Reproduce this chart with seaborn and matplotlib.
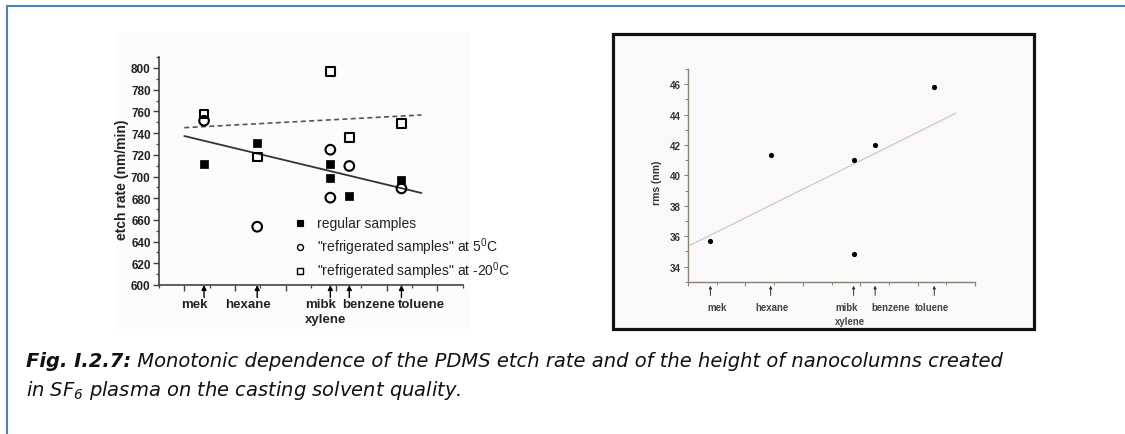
import matplotlib
matplotlib.use("Agg")
import matplotlib.pyplot as plt
import seaborn as sns
from matplotlib.patches import Rectangle
from matplotlib.lines import Line2D
from matplotlib.ticker import MultipleLocator

# ---- data -------------------------------------------------------------
# casting solvents placed on a common solvent-quality axis
solvent_labels = ["mek", "hexane", "mibk\nxylene", "benzene", "toluene"]
solvent_x = [0.78, 2.88, 5.77, 6.52, 8.58]

# PDMS etch rate (nm/min)
regular_x = [0.78, 2.88, 5.77, 5.77, 6.52, 8.58]
regular_rate = [711.5, 731.0, 711.5, 698.6, 681.7, 696.8]
cold5_x = [0.78, 2.88, 5.77, 5.77, 6.52, 8.58]
cold5_rate = [751.4, 653.7, 724.7, 680.5, 709.7, 689.0]
cold20_x = [0.78, 2.88, 5.77, 6.52, 8.58]
cold20_rate = [757.6, 718.0, 796.6, 735.8, 749.0]

# linear trends of the etch rate
trend_x = [0.0, 9.37]
trend_regular = [737.3, 684.8]
trend_cold = [745.0, 756.7]

# nanocolumn roughness (nm)
rms_x = [0.78, 2.88, 5.77, 5.77, 6.52, 8.58]
rms_nm = [35.67, 41.33, 40.98, 34.81, 41.99, 45.82]
rms_trend_x = [0.07, 9.34]
rms_trend = [35.4, 44.09]

legend_labels = [
    "regular samples",
    "\"refrigerated samples\" at 5$\\mathregular{^0}$C",
    "\"refrigerated samples\" at -20$\\mathregular{^0}$C",
]

# ---- layout (pixels of a 1125 x 435 canvas) ---------------------------
W, H = 1125, 435
left_label_x = [0.39, 2.52, 4.77, 7.29, 9.38]
left_label_ha = ["center", "center", "left", "center", "center"]
right_label_x = [1.0, 2.92, 5.12, 7.07, 8.49]
right_label_ha = ["center", "center", "left", "center", "center"]
legend_rows_y = [228, 252, 276]      # text baselines
legend_marker_x, legend_text_x = 300, 317

sns.set_theme(style="white")
plt.rcParams["font.family"] = ["Liberation Sans", "DejaVu Sans"]
plt.rcParams["axes.unicode_minus"] = False

fig = plt.figure(figsize=(W / 100, H / 100), dpi=100)
fig.patch.set_facecolor("white")


def fx(px):
    return px / W


def fy(py):
    return 1 - py / H


# page frame (top and left rule)
fig.add_artist(Line2D([fx(7), 1], [fy(7), fy(7)], color="#4f81bd", lw=1.5))
fig.add_artist(Line2D([fx(7), fx(7)], [fy(7), 0], color="#4f81bd", lw=1.5))

# faint panel backgrounds
fig.add_artist(Rectangle((fx(115), fy(330)), fx(470) - fx(115), fy(33) - fy(330),
                         transform=fig.transFigure, facecolor="#fcfcfc",
                         edgecolor="none", zorder=-5))
fig.add_artist(Rectangle((fx(613), fy(330)), fx(1034) - fx(613), fy(35) - fy(330),
                         transform=fig.transFigure, facecolor="#f9f9f9",
                         edgecolor="#111111", lw=2.3, zorder=-5))

# ======================= left panel: etch rate =========================
ax1 = fig.add_axes([fx(159), fy(286), fx(462.7) - fx(159), fy(58.15) - fy(286)])
ax1.set_facecolor("none")

sns.lineplot(x=trend_x, y=trend_regular, ax=ax1, color="#333333", lw=1.3, legend=False)
sns.lineplot(x=trend_x, y=trend_cold, ax=ax1, color="#555555", lw=1.2,
             linestyle=(0, (3, 2)), legend=False)
sns.scatterplot(x=regular_x, y=regular_rate, ax=ax1, marker="s", s=40,
                color="black", edgecolor="black", linewidth=0.5, zorder=3)
sns.scatterplot(x=cold5_x, y=cold5_rate, ax=ax1, marker="o", s=48,
                facecolor="none", edgecolor="black", linewidth=1.5, zorder=3)
sns.scatterplot(x=cold20_x, y=cold20_rate, ax=ax1, marker="s", s=40,
                facecolor="none", edgecolor="black", linewidth=1.5, zorder=3)

ax1.set_xlim(-1, 11)
ax1.set_ylim(600, 810)
ax1.set_xlabel("")
ax1.set_ylabel("")
ax1.yaxis.set_major_locator(MultipleLocator(20))
ax1.yaxis.set_minor_locator(MultipleLocator(10))
ax1.xaxis.set_major_locator(MultipleLocator(2))
ax1.xaxis.set_minor_locator(MultipleLocator(1))
for side in ["top", "right"]:
    ax1.spines[side].set_visible(False)
for side in ["left", "bottom"]:
    ax1.spines[side].set_color("#444444")
    ax1.spines[side].set_linewidth(1.2)
ax1.tick_params(axis="both", which="major", direction="out", length=4, width=1,
                color="#444444", bottom=True, left=True)
ax1.tick_params(axis="both", which="minor", direction="out", length=2.5, width=0.9,
                color="#444444", bottom=True, left=True)
ax1.tick_params(axis="y", labelsize=8.5, pad=2, labelcolor="#222222")
ax1.tick_params(axis="x", labelbottom=False)
for lab in ax1.get_yticklabels():
    lab.set_fontweight("bold")

fig.text(fx(122), fy(180), "etch rate (nm/min)", rotation=90, ha="center", va="center",
         fontsize=10, fontweight="bold", color="#222222")

xt1 = ax1.get_xaxis_transform()
for xv in solvent_x:
    ax1.annotate("", xy=(xv, 0), xycoords=xt1, xytext=(0, -9), textcoords="offset points",
                 arrowprops=dict(arrowstyle="-|>", lw=1.0, color="black",
                                 mutation_scale=7, shrinkA=0, shrinkB=0),
                 annotation_clip=False, zorder=4)
for lab, xv, ha in zip(solvent_labels, left_label_x, left_label_ha):
    ax1.annotate(lab, xy=(xv, 0), xycoords=xt1, xytext=(0, -13), textcoords="offset pixels",
                 ha=ha, va="top", fontsize=9.5, fontweight="bold", color="#222222",
                 linespacing=1.3, annotation_clip=False)

# legend: marker key and label per series
legend_markers = [
    dict(marker="s", mfc="black", mec="black", mew=0.8),
    dict(marker="o", mfc="none", mec="black", mew=1.0),
    dict(marker="s", mfc="none", mec="black", mew=1.0),
]
for style, label, yb in zip(legend_markers, legend_labels, legend_rows_y):
    fig.add_artist(Line2D([fx(legend_marker_x)], [fy(yb - 4)], ls="", ms=4.3, **style))
    fig.text(fx(legend_text_x), fy(yb), label, ha="left", va="baseline",
             fontsize=10, color="#222222")

# ======================= right panel: roughness ========================
ax2 = fig.add_axes([fx(688), fy(282.7), fx(975) - fx(688), fy(70) - fy(282.7)])
ax2.set_facecolor("none")
sns.lineplot(x=rms_trend_x, y=rms_trend, ax=ax2, color="#dcc3c3", lw=0.9, legend=False)
sns.scatterplot(x=rms_x, y=rms_nm, ax=ax2, marker="o", s=14, color="black",
                linewidth=0, zorder=3)
ax2.set_xlim(0, 10)
ax2.set_ylim(33, 47)
ax2.set_xlabel("")
ax2.set_ylabel("")
ax2.yaxis.set_minor_locator(MultipleLocator(1))
ax2.xaxis.set_major_locator(MultipleLocator(2))
ax2.xaxis.set_minor_locator(MultipleLocator(1))
ax2.set_yticks(range(34, 47, 2))
for side in ["top", "right"]:
    ax2.spines[side].set_visible(False)
for side in ["left", "bottom"]:
    ax2.spines[side].set_color("#8a8274")
    ax2.spines[side].set_linewidth(1.0)
ax2.tick_params(axis="both", which="major", direction="out", length=3, width=0.8,
                color="#8a8274", bottom=True, left=True)
ax2.tick_params(axis="both", which="minor", direction="out", length=2, width=0.7,
                color="#8a8274", bottom=True, left=True)
ax2.tick_params(axis="y", labelsize=7, pad=2, labelcolor="#333333")
ax2.tick_params(axis="x", labelbottom=False)
for lab in ax2.get_yticklabels():
    lab.set_fontweight("bold")

fig.text(fx(657), fy(183), "rms (nm)", rotation=90, ha="center", va="center",
         fontsize=7.5, fontweight="bold", color="#333333")

xt2 = ax2.get_xaxis_transform()
for xv in solvent_x:
    ax2.annotate("", xy=(xv, -4 / 212.7), xycoords=xt2, xytext=(0, -7), textcoords="offset points",
                 arrowprops=dict(arrowstyle="-|>", lw=0.7, color="#333333",
                                 mutation_scale=4, shrinkA=0, shrinkB=0),
                 annotation_clip=False)
for lab, xv, ha in zip(solvent_labels, right_label_x, right_label_ha):
    ax2.annotate(lab, xy=(xv, 0), xycoords=xt2, xytext=(0, -20), textcoords="offset pixels",
                 ha=ha, va="top", fontsize=6.9, fontweight="bold", color="#444444",
                 linespacing=1.5, annotation_clip=False)

# ======================= caption =======================================
cap_line1_head = "Fig. I.2.7:"
cap_line1_body = " Monotonic dependence of the PDMS etch rate and of the height of nanocolumns created"
cap_line2 = "in SF$\\mathregular{_6}$ plasma on the casting solvent quality."
cap_x0, cap_x1 = 26, 1003
renderer = fig.canvas.get_renderer()


def draw_caption(fs):
    t1 = fig.text(fx(cap_x0), fy(362), cap_line1_head, fontsize=fs, fontweight="bold",
                  style="italic", va="center", family="DejaVu Sans", color="#111111")
    bb = t1.get_window_extent(renderer)
    t2 = fig.text(bb.x1 / W, fy(362), cap_line1_body, fontsize=fs, style="italic",
                  va="center", family="DejaVu Sans", color="#111111")
    t3 = fig.text(fx(cap_x0), fy(391), cap_line2, fontsize=fs, style="italic",
                  va="center", family="DejaVu Sans", color="#111111")
    return [t1, t2, t3], t2.get_window_extent(renderer).x1


texts, right_edge = draw_caption(13.5)
fs_fit = 13.5 * (cap_x1 - cap_x0) / (right_edge - cap_x0)
for t in texts:
    t.remove()
draw_caption(fs_fit)

fig.savefig("out.png", dpi=100)
